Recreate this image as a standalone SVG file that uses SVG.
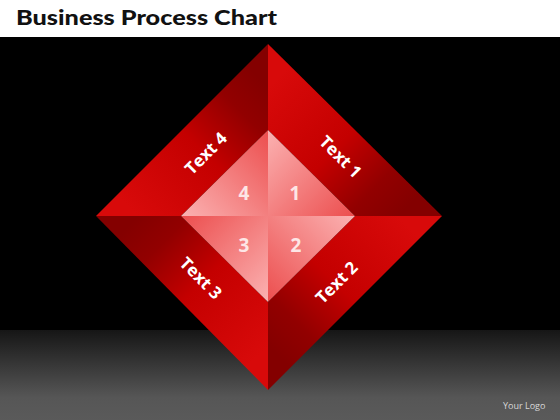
<svg xmlns="http://www.w3.org/2000/svg" width="560" height="420" viewBox="0 0 560 420">
  <defs>
    <linearGradient id="floor" x1="0" y1="330" x2="0" y2="420" gradientUnits="userSpaceOnUse">
      <stop offset="0" stop-color="#161616"/>
      <stop offset="0.75" stop-color="#565656"/>
      <stop offset="1" stop-color="#5a5a5a"/>
    </linearGradient>
    <linearGradient id="gTR" x1="268" y1="87" x2="398" y2="216" gradientUnits="userSpaceOnUse">
      <stop offset="0" stop-color="#d80a0a"/>
      <stop offset="0.5" stop-color="#c40000"/>
      <stop offset="0.8" stop-color="#920000"/>
      <stop offset="1" stop-color="#840000"/>
    </linearGradient>
    <linearGradient id="gBR" x1="398" y1="216" x2="268" y2="346" gradientUnits="userSpaceOnUse">
      <stop offset="0" stop-color="#d80a0a"/>
      <stop offset="0.5" stop-color="#c40000"/>
      <stop offset="0.8" stop-color="#920000"/>
      <stop offset="1" stop-color="#840000"/>
    </linearGradient>
    <linearGradient id="gBL" x1="268" y1="346" x2="138" y2="216" gradientUnits="userSpaceOnUse">
      <stop offset="0" stop-color="#d80a0a"/>
      <stop offset="0.5" stop-color="#c40000"/>
      <stop offset="0.8" stop-color="#920000"/>
      <stop offset="1" stop-color="#840000"/>
    </linearGradient>
    <linearGradient id="gTL" x1="138" y1="216" x2="268" y2="87" gradientUnits="userSpaceOnUse">
      <stop offset="0" stop-color="#d80a0a"/>
      <stop offset="0.5" stop-color="#c40000"/>
      <stop offset="0.8" stop-color="#920000"/>
      <stop offset="1" stop-color="#840000"/>
    </linearGradient>
    <linearGradient id="q1" x1="268" y1="130" x2="355" y2="216" gradientUnits="userSpaceOnUse">
      <stop offset="0" stop-color="#fbb2b2"/>
      <stop offset="1" stop-color="#ec4e4e"/>
    </linearGradient>
    <linearGradient id="q2" x1="355" y1="216" x2="268" y2="302" gradientUnits="userSpaceOnUse">
      <stop offset="0" stop-color="#fbb2b2"/>
      <stop offset="1" stop-color="#ec4e4e"/>
    </linearGradient>
    <linearGradient id="q3" x1="268" y1="302" x2="181" y2="216" gradientUnits="userSpaceOnUse">
      <stop offset="0" stop-color="#fbb2b2"/>
      <stop offset="1" stop-color="#ec4e4e"/>
    </linearGradient>
    <linearGradient id="q4" x1="181" y1="216" x2="268" y2="130" gradientUnits="userSpaceOnUse">
      <stop offset="0" stop-color="#fbb2b2"/>
      <stop offset="1" stop-color="#ec4e4e"/>
    </linearGradient>
  </defs>
  <style>
    .lbl { font-family: "Open Sans", "Liberation Sans", sans-serif; font-weight: bold; font-size: 17px; fill: #ffffff; text-anchor: middle; }
    .num { font-family: "Open Sans", "Liberation Sans", sans-serif; font-weight: bold; font-size: 19px; fill: #fde6e6; text-anchor: middle; }
    .title { font-family: "Lato", "Open Sans", sans-serif; font-weight: 900; font-size: 21px; fill: #111111; }
    .logo { font-family: "Open Sans", "Liberation Sans", sans-serif; font-size: 9px; fill: #d8d8d8; }
  </style>
  <rect x="0" y="0" width="560" height="37" fill="#ffffff"/>
  <rect x="0" y="37" width="560" height="293" fill="#000000"/>
  <rect x="0" y="330" width="560" height="90" fill="url(#floor)"/>
  <text class="title" x="16" y="25" textLength="261" lengthAdjust="spacingAndGlyphs">Business Process Chart</text>

  <g id="face1">
    <polygon points="268,44 442,216 355,216 268,130" fill="url(#gTR)"/>
    <text class="lbl" transform="translate(340.5,156.7) rotate(45)" y="6">Text 1</text>
  </g>
  <g id="face2">
    <polygon points="442,216 268,390 268,302 355,216" fill="url(#gBR)"/>
    <text class="lbl" transform="translate(336.5,282.5) rotate(-45)" y="6">Text 2</text>
  </g>
  <g id="face3">
    <polygon points="268,390 96,216 181,216 268,302" fill="url(#gBL)"/>
    <text class="lbl" transform="translate(200.8,278) rotate(45)" y="6">Text 3</text>
  </g>
  <g id="face4">
    <polygon points="96,216 268,44 268,130 181,216" fill="url(#gTL)"/>
    <text class="lbl" transform="translate(205.8,153.3) rotate(-45)" y="6">Text 4</text>
  </g>

  <g id="quad1">
    <polygon points="268,130 355,216 268,216" fill="url(#q1)"/>
    <text class="num" x="295" y="200">1</text>
  </g>
  <g id="quad2">
    <polygon points="355,216 268,302 268,216" fill="url(#q2)"/>
    <text class="num" x="296" y="252">2</text>
  </g>
  <g id="quad3">
    <polygon points="268,302 181,216 268,216" fill="url(#q3)"/>
    <text class="num" x="244" y="252">3</text>
  </g>
  <g id="quad4">
    <polygon points="181,216 268,130 268,216" fill="url(#q4)"/>
    <text class="num" x="244" y="200">4</text>
  </g>
  <g id="connectors"/>

  <text class="logo" x="503" y="409">Your Logo</text>
</svg>
